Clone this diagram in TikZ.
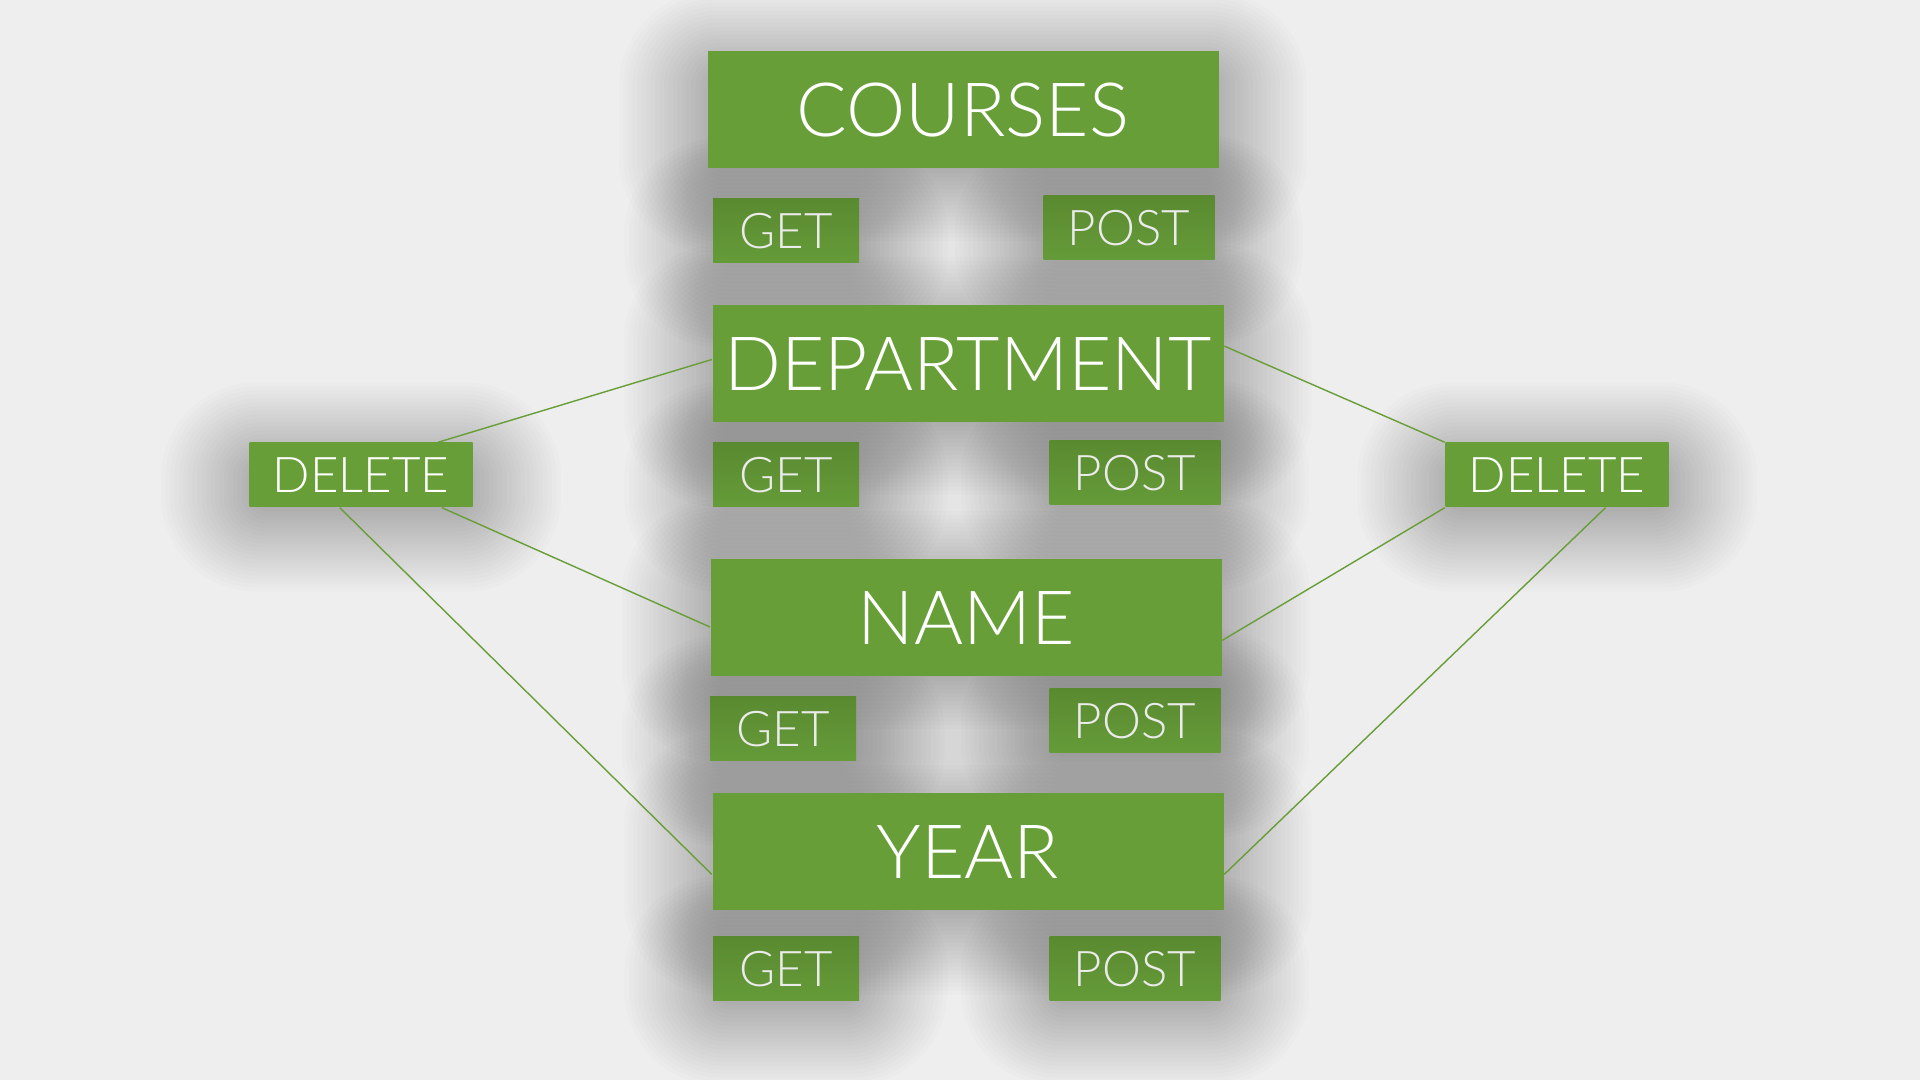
\documentclass[tikz,border=0pt]{standalone}
\usepackage{fontspec}
\setmainfont{Lato}[UprightFont=* Light]
\usetikzlibrary{positioning, calc}

\pgfdeclarelayer{background}
\pgfsetlayers{background,main}

\definecolor{leafgreen}{HTML}{689E38}
\definecolor{verbdark}{HTML}{5A8A30}
\definecolor{verblight}{HTML}{659B39}
\definecolor{paper}{HTML}{EEEEEE}

\begin{document}
\begin{tikzpicture}[
    resource/.style={fill=leafgreen, text=white, minimum width=5.11cm,
        minimum height=1.17cm, inner sep=0pt, font=\fontsize{21.3}{21.3}\selectfont},
    verb/.style={top color=verbdark, bottom color=verblight, text=white!92!black,
        minimum width=1.46cm, minimum height=0.64cm, inner sep=0pt,
        font=\fontsize{14}{14}\selectfont},
    postverb/.style={verb, minimum width=1.71cm},
    deleteverb/.style={verb, top color=leafgreen, bottom color=leafgreen,
        text=white, minimum width=2.23cm},
    shadowstep/.style={fill=black, fill opacity=0.01},
    link/.style={draw=leafgreen, line width=0.4pt}
]
    \useasboundingbox (0,0) rectangle (19.2,10.8);

    % Nodes
    \node[resource] (courses) at (9.63,9.70) {COURSES};
    \node[verb] (courses get) at (7.86,8.49) {GET};
    \node[postverb] (courses post) at (11.29,8.52) {POST};

    \node[resource] (department) at (9.68,7.16) {DEPARTMENT};
    \node[verb] (department get) at (7.86,6.05) {GET};
    \node[postverb] (department post) at (11.35,6.07) {POST};

    \node[resource] (name) at (9.66,4.62) {NAME};
    \node[verb] (name get) at (7.83,3.51) {GET};
    \node[postverb] (name post) at (11.35,3.59) {POST};

    \node[resource] (year) at (9.68,2.28) {YEAR};
    \node[verb] (year get) at (7.86,1.11) {GET};
    \node[postverb] (year post) at (11.35,1.11) {POST};

    \node[deleteverb] (left delete) at (3.61,6.05) {DELETE};
    \node[deleteverb] (right delete) at (15.57,6.05) {DELETE};

    % Paper and shadows
    \begin{pgfonlayer}{background}
    \fill[paper] (0,0) rectangle (19.2,10.8);
    \foreach \n in {courses, courses get, courses post, department, department get,
        department post, name, name get, name post, year, year get, year post,
        left delete, right delete}
        \foreach \r in {1,...,24}
            \fill[shadowstep, rounded corners=\r*0.04cm]
                ($(\n.south west)+(-\r*0.045+0.2, -\r*0.04+0.12)$) rectangle
                ($(\n.north east)+(\r*0.045-0.2, \r*0.04-0.36)$);
    \end{pgfonlayer}

    % Connections
    \draw[link] (left delete.23) -- (department.179);
    \draw[link] (left delete.338) -- (name.182);
    \draw[link] (left delete.237) -- (year.185);
    \draw[link] (right delete.north west) -- (department.4);
    \draw[link] (right delete.south west) -- (name.355);
    \draw[link] (right delete.326) -- (year.355);
\end{tikzpicture}
\end{document}
